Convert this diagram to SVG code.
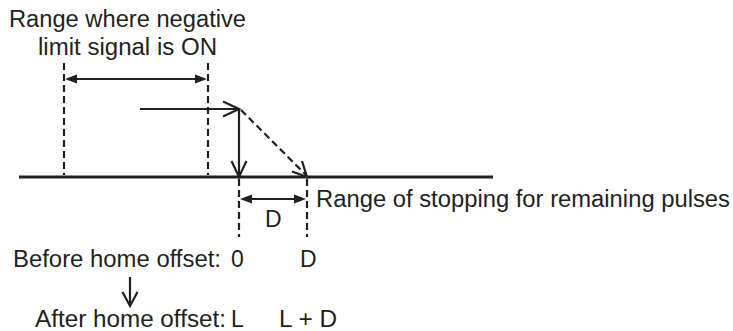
<svg xmlns="http://www.w3.org/2000/svg" width="733" height="331" viewBox="0 0 733 331">
<defs>
<style>
text{font-family:"Liberation Sans",Arial,sans-serif;font-size:23px;fill:#231f20}
.ln{stroke:#231f20;stroke-width:2.2;fill:none}
.dash{stroke:#231f20;stroke-width:2.2;fill:none;stroke-dasharray:7 4}
.base{stroke:#231f20;stroke-width:3;fill:none}
.fill{fill:#231f20;stroke:none}
</style>
</defs>
<rect width="733" height="331" fill="#fff"/>
<g id="labels">
<text x="9" y="27" textLength="237" lengthAdjust="spacingAndGlyphs">Range where negative</text>
<text x="38" y="55" textLength="179" lengthAdjust="spacingAndGlyphs">limit signal is ON</text>
<text x="316" y="207" textLength="414" lengthAdjust="spacingAndGlyphs">Range of stopping for remaining pulses</text>
<text x="265" y="227">D</text>
<text x="13" y="267" textLength="208" lengthAdjust="spacingAndGlyphs">Before home offset:</text>
<text x="231" y="267">0</text>
<text x="300" y="267">D</text>
<text x="35" y="327" textLength="191" lengthAdjust="spacingAndGlyphs">After home offset:</text>
<text x="231" y="327">L</text>
<text x="279" y="327" textLength="58" lengthAdjust="spacingAndGlyphs">L + D</text>
</g>
<g id="connectors">
<line class="base" x1="19" y1="177" x2="493" y2="177"/>
<line class="dash" x1="64" y1="63" x2="64" y2="175"/>
<line class="dash" x1="208" y1="63" x2="208" y2="175"/>
<line class="ln" x1="74" y1="79" x2="198" y2="79"/>
<polygon class="fill" points="65,79 77,74.5 77,83.5"/>
<polygon class="fill" points="207,79 195,74.5 195,83.5"/>
<line class="ln" x1="140" y1="109" x2="238" y2="109"/>
<polyline class="ln" points="223,101.5 239,109 223,116.5"/>
<line class="ln" x1="239" y1="109" x2="239" y2="176"/>
<polyline class="ln" points="231.5,161 239,177 246.5,161"/>
<line class="dash" x1="241" y1="110" x2="306" y2="175"/>
<polyline class="ln" points="292,171.5 307,177 302,161"/>
<line class="dash" x1="239" y1="179" x2="239" y2="237"/>
<line class="dash" x1="307" y1="179" x2="307" y2="237"/>
<line class="ln" x1="248" y1="199" x2="298" y2="199"/>
<polygon class="fill" points="240,199 252,194.5 252,203.5"/>
<polygon class="fill" points="306,199 294,194.5 294,203.5"/>
<line class="ln" x1="130" y1="277" x2="130" y2="305"/>
<polyline class="ln" points="122.5,292 130,306 137.5,292"/>
</g>
</svg>
